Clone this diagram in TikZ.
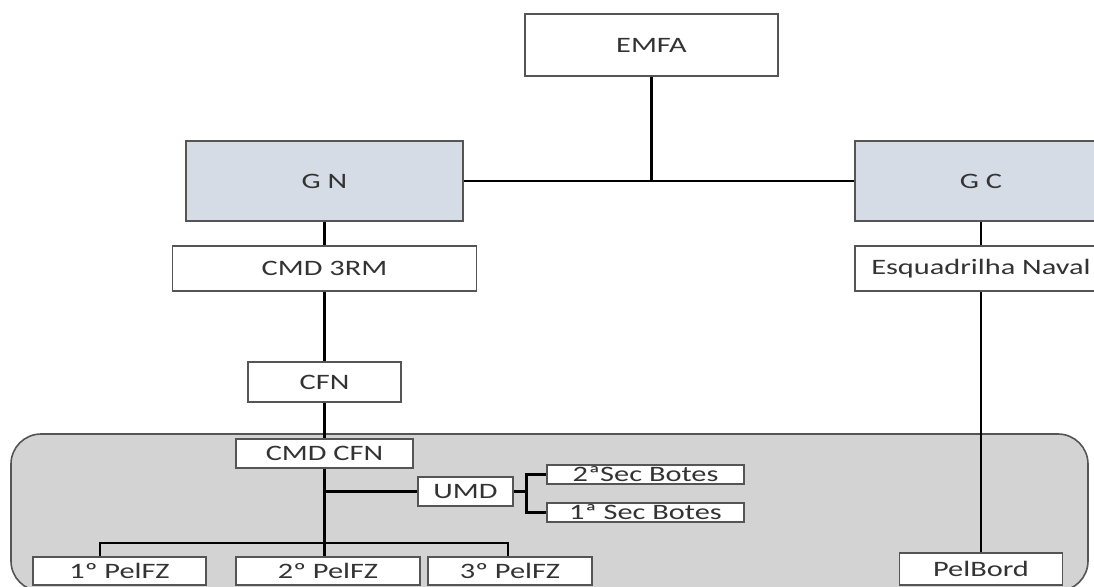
\documentclass[tikz,border=0pt]{standalone}
\usepackage{fontspec}
\setmainfont{Carlito}[FakeStretch=1.38]
\usetikzlibrary{calc}

\definecolor{gnfill}{RGB}{214,220,229}
\definecolor{basegray}{RGB}{211,211,211}
\definecolor{edgegray}{RGB}{85,85,85}

\begin{document}
\begin{tikzpicture}[x=0.5pt,y=-0.5pt,
    unit/.style={draw=edgegray,line width=0.8pt,fill=white,inner sep=0pt,
      font=\fontsize{11}{13}\selectfont,text=black!80},
    link/.style={line width=1.4pt,black}]
    \def\u{0.5pt}
    \useasboundingbox (0,0) rectangle (1094,586);
    %% base (shaded area)
    \draw[fill=basegray,draw=edgegray,line width=0.8pt,rounded corners=15pt] (11,434) rectangle (1088,591);
    %% top level
    \node[unit,minimum width=253*\u,minimum height=62*\u] (EMFA) at (651.5,45) {EMFA};
    \node[unit,fill=gnfill,minimum width=277*\u,minimum height=80*\u] (GN) at (324.5,181) {G N};
    \node[unit,fill=gnfill,minimum width=252*\u,minimum height=80*\u] (GC) at (981,181) {G C};
    %% left branch
    \node[unit,minimum width=304*\u,minimum height=45*\u] (CMD3RM) at (324.5,268.5) {CMD 3RM};
    \node[unit,minimum width=153*\u,minimum height=40*\u] (CFN) at (324.5,382) {CFN};
    \node[unit,minimum width=177*\u,minimum height=29*\u] (CMDCFN) at (324.5,453.5) {CMD CFN};
    \node[unit,minimum width=95*\u,minimum height=29*\u] (UMD) at (465.5,491.5) {UMD};
    \node[unit,minimum width=197*\u,minimum height=19*\u] (Sec2) at (645.5,474.5) {2ªSec Botes};
    \node[unit,minimum width=197*\u,minimum height=19*\u] (Sec1) at (645.5,512.5) {1ª Sec Botes};
    \foreach \k/\x/\w in {1/119.5/173,2/328/184,3/510/164}
        \node[unit,minimum width=\w*\u,minimum height=28*\u] (P\k) at (\x,571) {\k{}º PelFZ};
    %% right branch
    \node[unit,minimum width=252*\u,minimum height=45*\u] (Esq) at (981,268.5) {Esquadrilha Naval};
    \node[unit,minimum width=163*\u,minimum height=32*\u] (PelBord) at (981,569) {PelBord};
    %% links
    \draw[link] (EMFA.south) -- (EMFA.south |- GN.east);
    \draw[link] (GN.east) -- (GC.west);
    \draw[link] (GN.south) -- (CMD3RM.north);
    \draw[link] (CMD3RM.south) -- (CFN.north);
    \draw[link] (CFN.south) -- (CMDCFN.north);
    \draw[link] (CMDCFN.south) -- (CMDCFN.south |- P2.north);
    \draw[link] (CMDCFN.south |- UMD.west) -- (UMD.west);
    \draw[link] (UMD.east) -- ++(13,0) coordinate (fork);
    \draw[link] (Sec2.west) -| (fork) |- (Sec1.west);
    \coordinate (bar) at (324.5,543);
    \draw[link] ($(P1.north)+(-19.5,0)$) |- (bar) -| ($(P3.north)+(-2,0)$);
    \draw[link] (GC.south) -- (Esq.north);
    \draw[link] (Esq.south) -- (PelBord.north);
\end{tikzpicture}
\end{document}
